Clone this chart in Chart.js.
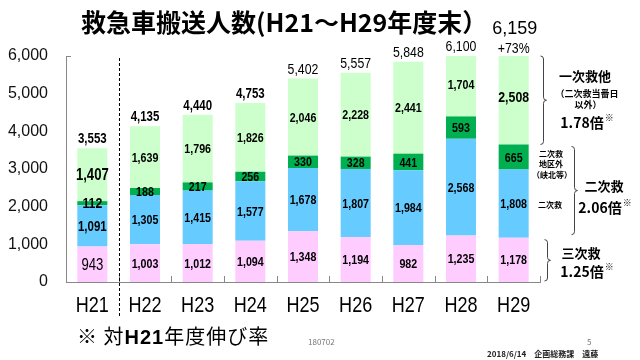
<!DOCTYPE html>
<html>
<head>
<meta charset="utf-8">
<script src="https://cdn.jsdelivr.net/npm/chart.js@4"></script>
<style>
  html, body { margin: 0; padding: 0; background: #fff; }
  #wrap { position: relative; width: 640px; height: 360px; overflow: hidden; }
  #chart { position: absolute; left: 0; top: 0; }
  .txt { position: absolute; white-space: nowrap; font-family: "Noto Sans CJK JP", sans-serif; color: #000; }
  #title { left: 81px; top: 3px; font-size: 25px; font-weight: bold; line-height: 36px; }
  #note { left: 77px; top: 321px; font-size: 20px; line-height: 30px; letter-spacing: 1px; }
  #note b { font-family: "Liberation Sans", sans-serif; }
  .small { font-size: 8px; line-height: 10px; color: #777; }
</style>
</head>
<body>
<div id="wrap">
  <canvas id="chart" width="640" height="360"></canvas>
  <div id="title" class="txt">救急車搬送人数(H21～H29年度末）</div>
  <div id="note" class="txt">※ 対<b>H21</b>年度伸び率</div>
  <div class="txt small" style="left:308px; top:337px;">180702</div>
  <div class="txt small" style="left:587px; top:337px;">5</div>
  <div class="txt small" style="left:487px; top:349px; color:#222; font-weight:bold;">2018/6/14　企画総務課　遠藤</div>
</div>
<script>
// 年度
const categories = ['H21', 'H22', 'H23', 'H24', 'H25', 'H26', 'H27', 'H28', 'H29'];
// 三次救
const tertiary = [943, 1003, 1012, 1094, 1348, 1194, 982, 1235, 1178];
// 二次救
const secondary = [1091, 1305, 1415, 1577, 1678, 1807, 1984, 2568, 1808];
// 二次救 地区外（峡北等）
const secondaryOut = [112, 188, 217, 256, 330, 328, 441, 593, 665];
// 一次救他（二次救当番日以外）
const primary = [1407, 1639, 1796, 1826, 2046, 2228, 2441, 1704, 2508];
// y軸
const yMin = 0;
const yMax = 6000;
const yStep = 1000;

const SANS = '"Liberation Sans", Arial, sans-serif';
const JP = '"Noto Sans CJK JP", sans-serif';
const AXIS_COLOR = '#888';
const NARROW = 0.82; // Arial Narrow 風に横を詰める

const totals = categories.map((_, i) => tertiary[i] + secondary[i] + secondaryOut[i] + primary[i]);
const fmt = v => v.toLocaleString('en-US');
const last = categories.length - 1;

// 対H21年度伸び率
const ratio = (a, b) => (a / b).toFixed(2);
const primaryRatio = ratio(primary[last], primary[0]);
const secondaryRatio = ratio(secondary[last] + secondaryOut[last], secondary[0] + secondaryOut[0]);
const tertiaryRatio = ratio(tertiary[last], tertiary[0]);
const totalGrowth = Math.round((totals[last] / totals[0] - 1) * 100);

/**
 * 横に詰めた文字を描く
 */
function narrowText(ctx, text, x, y, font, sx = NARROW) {
  ctx.save();
  ctx.font = font;
  ctx.translate(x, y);
  ctx.scale(sx, 1);
  ctx.fillText(text, 0, 0);
  ctx.restore();
}

/**
 * 各区分の数値・合計・注記を描く
 */
const labelPlugin = {
  id: 'labels',
  afterDatasetsDraw(chart) {
    const ctx = chart.ctx;
    const area = chart.chartArea;
    const xs = chart.scales.x;
    const ys = chart.scales.y;
    ctx.save();
    ctx.textAlign = 'center';
    ctx.textBaseline = 'middle';
    ctx.fillStyle = '#000';

    // 区分ごとの数値
    chart.data.datasets.forEach((ds, di) => {
      chart.getDatasetMeta(di).data.forEach((bar, i) => {
        const y = (bar.y + bar.base) / 2;
        let font = 'bold 13px ' + SANS;
        if (i === 0) {
          font = ['16px ', 'bold 14px ', 'bold 15px ', 'bold 16px '][di] + SANS;
        } else if (i === last && di === 3) {
          font = 'bold 15px ' + SANS;
        }
        narrowText(ctx, fmt(ds.data[i]), bar.x, y + 1, font);
      });
    });

    // 合計
    const topMeta = chart.getDatasetMeta(3);
    totals.forEach((t, i) => {
      const x = topMeta.data[i].x;
      const barTop = Math.max(ys.getPixelForValue(t), area.top);
      if (i === last) {
        narrowText(ctx, '+' + totalGrowth + '%', x, barTop - 7, '15px ' + SANS);
        narrowText(ctx, fmt(t), x + 1, barTop - 27, '18px ' + SANS, 1);
      } else {
        narrowText(ctx, fmt(t), x, barTop - 9, (i < 4 ? 'bold 14px ' : '15px ') + SANS);
      }
    });

    // 横軸の年度
    xs.ticks.forEach(tk => {
      narrowText(ctx, categories[tk.value], xs.getPixelForValue(tk.value), area.bottom + 24, '22px ' + SANS);
    });

    // 軸の内向き目盛
    const step = xs.getPixelForValue(1) - xs.getPixelForValue(0);
    ctx.strokeStyle = AXIS_COLOR;
    ctx.lineWidth = 1;
    ctx.beginPath();
    for (let i = 0; i < categories.length; i++) {
      const bx = Math.round(xs.getPixelForValue(i) + step / 2) + 0.5;
      ctx.moveTo(bx, area.bottom);
      ctx.lineTo(bx, area.bottom - 6);
    }
    ctx.moveTo(area.left, Math.round(area.top) + 0.5);
    ctx.lineTo(area.left + 5, Math.round(area.top) + 0.5);
    ctx.stroke();

    // H21とH22の区切り（点線）
    const dx = Math.round(xs.getPixelForValue(0) + step / 2) + 0.5;
    ctx.strokeStyle = '#000';
    ctx.setLineDash([3, 2]);
    ctx.beginPath();
    ctx.moveTo(dx, area.top + 2);
    ctx.lineTo(dx, 318);
    ctx.stroke();
    ctx.setLineDash([]);

    // 右側の括弧
    const yP1 = area.top;
    const yP2 = ys.getPixelForValue(tertiary[last] + secondary[last] + secondaryOut[last]);
    const yS2 = ys.getPixelForValue(tertiary[last]);
    const yT2 = ys.getPixelForValue(0);
    ctx.strokeStyle = '#444';
    drawBrace(ctx, 543.5, yP1, yP2);
    drawBrace(ctx, 574.5, yP2 + 2, yS2 - 3);
    drawBrace(ctx, 547.5, yS2 + 2, yT2 - 1);

    // 注記
    ctx.fillStyle = '#000';
    ctx.font = 'bold 13px ' + JP;
    ctx.fillText('一次救他', 585, (yP1 + yP2) / 2 - 24);
    ctx.font = 'bold 9px ' + JP;
    ctx.fillText('（二次救当番日', 587, (yP1 + yP2) / 2 - 7);
    ctx.fillText('以外）', 588, (yP1 + yP2) / 2 + 4);
    drawRatio(ctx, primaryRatio, 586, (yP1 + yP2) / 2 + 22);

    ctx.font = 'bold 8px ' + JP;
    ctx.fillText('二次救', 551, yP2 + 9);
    ctx.fillText('地区外', 551, yP2 + 19);
    ctx.fillText('（峡北等）', 552, yP2 + 30);
    ctx.fillText('二次救', 550, ys.getPixelForValue(tertiary[last] + secondary[last] / 2) + 1);

    ctx.font = 'bold 13px ' + JP;
    ctx.fillText('二次救', 604, (yP2 + yS2) / 2 - 5);
    drawRatio(ctx, secondaryRatio, 604, (yP2 + yS2) / 2 + 17);

    ctx.font = 'bold 13px ' + JP;
    ctx.fillText('三次救', 581, (yS2 + yT2) / 2 - 7);
    drawRatio(ctx, tertiaryRatio, 586, (yS2 + yT2) / 2 + 12);

    ctx.restore();
  }
};

function drawBrace(ctx, x, y1, y2) {
  const ym = (y1 + y2) / 2;
  ctx.lineWidth = 1;
  ctx.beginPath();
  ctx.moveTo(x - 3, y1);
  ctx.quadraticCurveTo(x, y1, x, y1 + 3);
  ctx.lineTo(x, ym - 3);
  ctx.quadraticCurveTo(x, ym, x + 3, ym);
  ctx.quadraticCurveTo(x, ym, x, ym + 3);
  ctx.lineTo(x, y2 - 3);
  ctx.quadraticCurveTo(x, y2, x - 3, y2);
  ctx.stroke();
}

function drawRatio(ctx, value, cx, cy) {
  const main = value + '倍';
  ctx.font = 'bold 14px ' + JP;
  const w = ctx.measureText(main).width;
  ctx.textAlign = 'left';
  ctx.fillText(main, cx - w / 2 - 4, cy);
  ctx.font = 'bold 9px ' + JP;
  ctx.fillText('※', cx + w / 2 - 3, cy - 5);
  ctx.textAlign = 'center';
}

const common = { stack: 's', borderWidth: 0, barPercentage: 0.57, categoryPercentage: 1.0 };

new Chart(document.getElementById('chart').getContext('2d'), {
  type: 'bar',
  data: {
    labels: categories,
    datasets: [
      { label: '三次救', data: tertiary, backgroundColor: '#FFCCFF', ...common },
      { label: '二次救', data: secondary, backgroundColor: '#66CCFF', ...common },
      { label: '二次救 地区外', data: secondaryOut, backgroundColor: '#00B050', ...common },
      { label: '一次救他', data: primary, backgroundColor: '#CCFFCC', ...common }
    ]
  },
  options: {
    responsive: false,
    animation: false,
    devicePixelRatio: 1,
    layout: { padding: { top: 56, right: 100, left: 0, bottom: 0 } },
    plugins: { legend: { display: false }, tooltip: { enabled: false } },
    scales: {
      x: {
        stacked: true,
        grid: { display: false, drawTicks: false },
        border: { display: true, color: AXIS_COLOR },
        ticks: { display: false },
        afterFit(scale) { scale.height = 78; }
      },
      y: {
        stacked: true,
        min: yMin,
        max: yMax,
        grid: { display: false, drawTicks: false },
        border: { display: true, color: AXIS_COLOR },
        ticks: {
          stepSize: yStep,
          color: '#111',
          padding: 18,
          font: { family: SANS, size: 16 },
          callback: v => fmt(v)
        },
        afterFit(scale) { scale.width = 66; }
      }
    }
  },
  plugins: [labelPlugin]
});
</script>
</body>
</html>
